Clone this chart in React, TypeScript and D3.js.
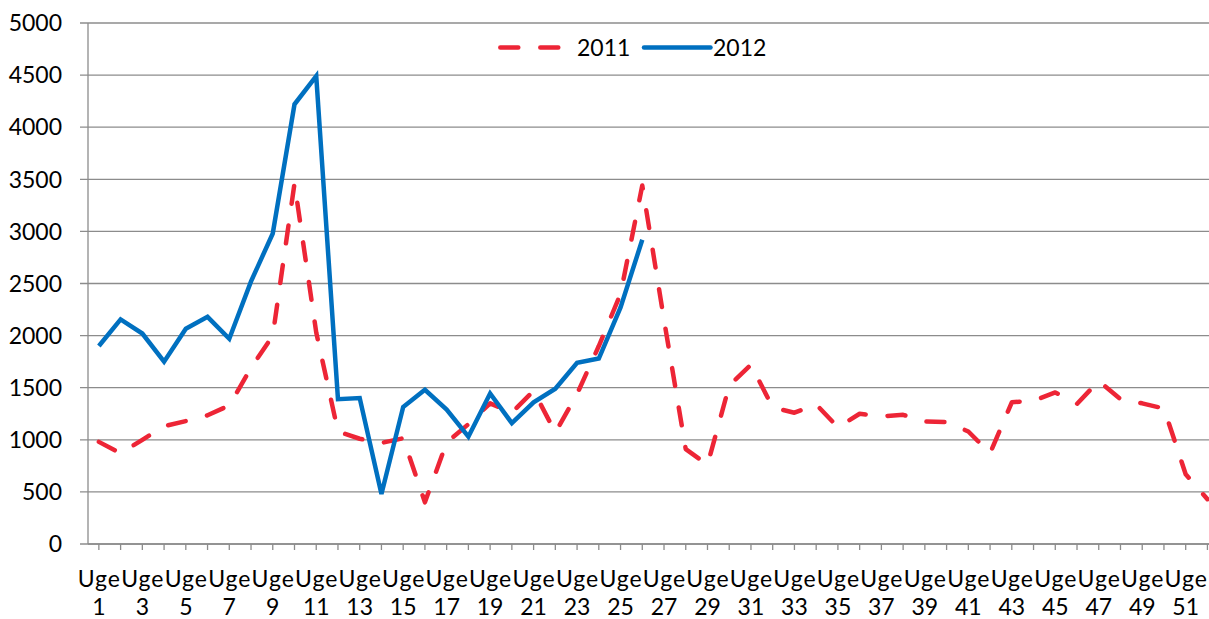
import React from "react";
import * as d3 from "d3";

const weeks = [
  "Uge 1", "Uge 2", "Uge 3", "Uge 4", "Uge 5", "Uge 6", "Uge 7", "Uge 8", "Uge 9", "Uge 10",
  "Uge 11", "Uge 12", "Uge 13", "Uge 14", "Uge 15", "Uge 16", "Uge 17", "Uge 18", "Uge 19", "Uge 20",
  "Uge 21", "Uge 22", "Uge 23", "Uge 24", "Uge 25", "Uge 26", "Uge 27", "Uge 28", "Uge 29", "Uge 30",
  "Uge 31", "Uge 32", "Uge 33", "Uge 34", "Uge 35", "Uge 36", "Uge 37", "Uge 38", "Uge 39", "Uge 40",
  "Uge 41", "Uge 42", "Uge 43", "Uge 44", "Uge 45", "Uge 46", "Uge 47", "Uge 48", "Uge 49", "Uge 50",
  "Uge 51", "Uge 52",
];

const values2011 = [
  980, 870, 1000, 1130, 1180, 1235, 1330, 1690, 2000, 3460,
  2030, 1080, 1010, 970, 1015, 400, 975, 1150, 1350, 1260,
  1470, 1070, 1440, 1900, 2400, 3440, 2150, 910, 760, 1520,
  1720, 1310, 1260, 1340, 1120, 1250, 1225, 1240, 1175, 1170,
  1080, 870, 1360, 1375, 1455, 1345, 1565, 1390, 1350, 1300,
  670, 430,
];

const values2012 = [
  1900, 2155, 2020, 1750, 2065, 2180, 1970, 2520, 2980, 4220,
  4490, 1390, 1400, 480, 1315, 1480, 1290, 1030, 1445, 1160,
  1360, 1490, 1740, 1780, 2270, 2920,
];

const yTicks = [0, 500, 1000, 1500, 2000, 2500, 3000, 3500, 4000, 4500, 5000];

const seriesNames = ["2011", "2012"];
const RED = "#ED2536";
const BLUE = "#0070C0";
const GRID = "#8C8C8C";
const FONT = "Lato, 'Open Sans', sans-serif";
const FS = 23;

export default function App() {
  const W = 1209;
  const H = 619;
  const left = 88;
  const right = 1218.3;
  const top = 23;
  const bottom = 544;

  const x = d3.scaleBand<string>().domain(weeks).range([left, right]);
  const cx = (w: string) => (x(w) as number) + x.bandwidth() / 2;
  const y = d3.scaleLinear().domain([0, 5000]).range([bottom, top]);

  const line = d3
    .line<number>()
    .x((_, i) => cx(weeks[i]))
    .y((d) => y(d));

  return (
    <svg
      width={W}
      height={H}
      style={{ position: "absolute", left: 0, top: 0, background: "#fff" }}
      fontFamily={FONT}
    >
      <rect x={0} y={0} width={W} height={H} fill="#fff" />
      {yTicks.map((t) => (
        <g key={t}>
          <line x1={80} x2={right} y1={y(t)} y2={y(t)} stroke={GRID} strokeWidth={1.3} />
          <text x={62} y={y(t)} dy="0.36em" textAnchor="end" fontSize={FS} fill="#000">
            {t}
          </text>
        </g>
      ))}
      <line x1={left} x2={left} y1={top} y2={bottom} stroke={GRID} strokeWidth={1.3} />
      <line x1={left} x2={right} y1={bottom} y2={bottom} stroke={GRID} strokeWidth={1.3} />
      {weeks.map((w) => (
        <line key={w} x1={cx(w)} x2={cx(w)} y1={bottom} y2={bottom + 6} stroke={GRID} strokeWidth={1.3} />
      ))}
      {weeks.map((w, i) => {
        if (i % 2 !== 0) return null;
        const [a, b] = w.split(" ");
        return (
          <text key={"l" + w} textAnchor="middle" fontSize={FS} fill="#000">
            <tspan x={cx(w) + 0.5} y={587} letterSpacing={1}>{a}</tspan>
            <tspan x={cx(w)} y={615}>{b}</tspan>
          </text>
        );
      })}
      <path
        d={line(values2011) || ""}
        fill="none"
        stroke={RED}
        strokeWidth={4.5}
        strokeDasharray="18 22"
        strokeLinecap="round"
        strokeLinejoin="round"
      />
      <path
        d={line(values2012) || ""}
        fill="none"
        stroke={BLUE}
        strokeWidth={4.5}
        strokeLinejoin="miter"
        strokeLinecap="butt"
      />
      <line
        x1={500.3}
        x2={558.3}
        y1={47.5}
        y2={47.5}
        stroke={RED}
        strokeWidth={4.5}
        strokeDasharray="18 22"
        strokeLinecap="round"
      />
      <text x={577} y={47.5} dy="0.36em" fontSize={FS} fill="#000">
        {seriesNames[0]}
      </text>
      <line x1={644} x2={710.5} y1={47.5} y2={47.5} stroke={BLUE} strokeWidth={4.5} strokeLinecap="round" />
      <text x={713} y={47.5} dy="0.36em" fontSize={FS} fill="#000">
        {seriesNames[1]}
      </text>
    </svg>
  );
}
